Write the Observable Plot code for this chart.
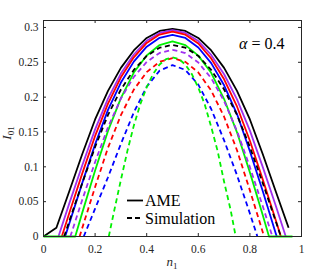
<!DOCTYPE html>
<html><head><meta charset="utf-8">
<script src="https://cdn.jsdelivr.net/npm/d3@7"></script>
<script src="https://cdn.jsdelivr.net/npm/@observablehq/plot@0.6"></script>
<style>
body{margin:0;background:#fff;}
#wrap{position:relative;width:332px;height:272px;}
#legend{position:absolute;left:0;top:0;width:332px;height:272px;pointer-events:none;}
</style></head><body><div id="wrap"></div>
<script>
// ---- data ----
const xTicks = [0, 0.2, 0.4, 0.6, 0.8, 1];
const xTickLabels = ["0", "0.2", "0.4", "0.6", "0.8", "1"];
const yTicks = [0, 0.05, 0.1, 0.15, 0.2, 0.25, 0.3];
const yTickLabels = ["0", "0.05", "0.1", "0.15", "0.2", "0.25", "0.3"];
const seriesNames = ["AME", "Simulation"];
const annotation = "α = 0.4";

// AME (solid)
const ameBlackN = [0,0.05,0.1,0.15,0.2,0.25,0.3,0.35,0.4,0.45,0.5,0.55,0.6,0.65,0.7,0.75,0.8,0.85,0.9,0.95];
const ameBlackI = [0,0.0125,0.065,0.118,0.168,0.209,0.242,0.267,0.285,0.295,0.298,0.295,0.285,0.267,0.242,0.209,0.168,0.118,0.065,0.0125];
const ameVioletN = [0.058,0.1,0.15,0.2,0.25,0.3,0.35,0.4,0.45,0.5,0.55,0.6,0.65,0.7,0.75,0.8,0.85,0.9,0.939];
const ameVioletI = [0,0.0475,0.102,0.1537,0.1978,0.2338,0.2612,0.2808,0.2922,0.296,0.2921,0.2805,0.2606,0.2329,0.1967,0.1519,0.0995,0.0444,0];
const ameRedN = [0.071,0.1,0.15,0.2,0.25,0.3,0.35,0.4,0.45,0.5,0.55,0.6,0.65,0.7,0.75,0.8,0.85,0.9,0.92];
const ameRedI = [0,0.0336,0.0902,0.1443,0.1908,0.2284,0.2572,0.2778,0.2899,0.294,0.2897,0.277,0.2556,0.2256,0.1866,0.1374,0.0816,0.0236,0];
const ameBlueN = [0.084,0.1,0.15,0.2,0.25,0.3,0.35,0.4,0.45,0.5,0.55,0.6,0.65,0.7,0.75,0.8,0.85,0.9,0.904];
const ameBlueI = [0,0.0188,0.0766,0.1322,0.1817,0.2209,0.251,0.2724,0.2852,0.2895,0.2849,0.2713,0.2488,0.217,0.1758,0.1224,0.0648,0.0048,0];
const ameGreenN = [0,0.123,0.15,0.2,0.25,0.3,0.35,0.4,0.45,0.5,0.55,0.6,0.65,0.7,0.75,0.8,0.85,0.874,0.965];
const ameGreenI = [0,0,0.0339,0.0948,0.1516,0.1987,0.2353,0.2598,0.2748,0.28,0.2747,0.2596,0.2349,0.1973,0.1495,0.092,0.0304,0,0];

// Simulation (dashed)
const simBlackN = [0.08,0.1,0.15,0.2,0.25,0.3,0.35,0.4,0.45,0.5,0.55,0.6,0.65,0.7,0.75,0.8,0.85,0.9,0.92];
const simBlackI = [0,0.0221,0.0764,0.1285,0.1745,0.211,0.2391,0.2591,0.271,0.275,0.271,0.2591,0.2391,0.211,0.1745,0.1285,0.0764,0.0221,0];
const simVioletN = [0.104,0.15,0.2,0.25,0.3,0.35,0.4,0.45,0.5,0.55,0.6,0.65,0.7,0.75,0.8,0.85,0.887];
const simVioletI = [0,0.0524,0.1069,0.1569,0.1981,0.2289,0.2505,0.2635,0.268,0.2633,0.2497,0.2272,0.1944,0.1514,0.0995,0.0433,0];
const simRedN = [0.14,0.15,0.2,0.25,0.3,0.35,0.4,0.45,0.5,0.55,0.6,0.65,0.7,0.75,0.8,0.85,0.855];
const simRedI = [0,0.012,0.0711,0.1274,0.1742,0.2108,0.2359,0.2508,0.256,0.2507,0.2354,0.2094,0.1719,0.1238,0.0662,0.0061,0];
const simBlueN = [0.156,0.2,0.25,0.3,0.35,0.4,0.45,0.5,0.55,0.6,0.65,0.7,0.75,0.8,0.829];
const simBlueI = [0,0.04,0.085,0.133,0.178,0.215,0.238,0.246,0.239,0.218,0.183,0.138,0.088,0.033,0];
const simGreenN = [0.253,0.275,0.3,0.325,0.35,0.375,0.4,0.425,0.45,0.475,0.5,0.525,0.55,0.575,0.6,0.625,0.65,0.675,0.7,0.725,0.745];
const simGreenI = [0,0.0387,0.0813,0.1225,0.1591,0.1896,0.2144,0.2332,0.2469,0.2546,0.257,0.2546,0.2467,0.2332,0.2136,0.1896,0.1573,0.1225,0.0785,0.0387,0];

// ---- styling ----
const C = {black:"#000000", violet:"#a030f0", red:"#ff0000", blue:"#0000ff", green:"#00f000"};
const curves = [
  [ameBlackN, ameBlackI, C.black, null],
  [ameVioletN, ameVioletI, C.violet, null],
  [ameRedN, ameRedI, C.red, null],
  [ameBlueN, ameBlueI, C.blue, null],
  [ameGreenN, ameGreenI, C.green, null],
  [simBlackN, simBlackI, C.black, "5,3.5"],
  [simVioletN, simVioletI, C.violet, "5,3.5"],
  [simRedN, simRedI, C.red, "5,3.5"],
  [simBlueN, simBlueI, C.blue, "5,3.5"],
  [simGreenN, simGreenI, C.green, "5,3.5"]
];
const W = 332, H = 272, mL = 43, mR = 31, mT = 20, mB = 36;
const yMax = 0.31;
const tickLen = 3;
const yPerPx = yMax / (H - mT - mB);
const xPerPx = 1 / (W - mL - mR);
const axisColor = "#262626";
const font = "Liberation Serif";

const lineMarks = curves.map(([ns, is, color, dash]) =>
  Plot.line(ns.map((n, i) => ({n, I: is[i]})), {
    x: "n", y: "I", stroke: color, strokeWidth: 1.8,
    strokeDasharray: dash, strokeLinejoin: "round", strokeLinecap: "butt"
  }));

const plot = Plot.plot({
  width: W, height: H,
  marginLeft: mL, marginRight: mR, marginTop: mT, marginBottom: mB,
  style: {fontFamily: font, fontSize: "11.5px", background: "#fff"},
  x: {domain: [0, 1]},
  y: {domain: [0, yMax]},
  marks: [
    ...lineMarks,
    Plot.ruleX(xTicks, {y1: 0, y2: tickLen * yPerPx, stroke: axisColor}),
    Plot.ruleX(xTicks, {y1: yMax - tickLen * yPerPx, y2: yMax, stroke: axisColor}),
    Plot.ruleY(yTicks, {x1: 0, x2: tickLen * xPerPx, stroke: axisColor}),
    Plot.ruleY(yTicks, {x1: 1 - tickLen * xPerPx, x2: 1, stroke: axisColor}),
    Plot.frame({stroke: axisColor, strokeWidth: 1}),
    Plot.axisX(xTicks, {tickSize: 0, tickPadding: 8, tickFormat: (d, i) => xTickLabels[i], fontFamily: font, fontSize: 11.5, color: axisColor, label: null}),
    Plot.axisY(yTicks, {tickSize: 0, tickPadding: 5, tickFormat: (d, i) => yTickLabels[i], fontFamily: font, fontSize: 11.5, color: axisColor, label: null}),
    Plot.text([annotation], {frameAnchor: "top-right", dx: -17, dy: 17, fontFamily: font, fontSize: 16, fill: "#000", text: d => d})
  ]
});
document.getElementById("wrap").appendChild(plot);

const svg = d3.select(plot);
// italicize alpha in annotation
svg.selectAll("text").each(function () {
  const t = d3.select(this);
  if (t.text() === annotation) {
    t.text(null);
    t.append("tspan").attr("font-style", "italic").text("α");
    t.append("tspan").text(" = 0.4");
  }
});
// axis labels
const xl = svg.append("text").attr("x", mL + (W - mL - mR) / 2).attr("y", H - 6)
  .attr("text-anchor", "middle").attr("font-size", 13).attr("fill", axisColor);
xl.append("tspan").attr("font-style", "italic").text("n");
xl.append("tspan").attr("font-size", 9).attr("dy", 3).text("1");
const yl = svg.append("text").attr("transform", `translate(11,${mT + (H - mT - mB) / 2 + 5}) rotate(-90)`)
  .attr("text-anchor", "middle").attr("font-size", 13).attr("fill", axisColor);
yl.append("tspan").attr("font-style", "italic").text("I");
yl.append("tspan").attr("font-size", 9).attr("dy", 3).text("01");
svg.selectAll("text").attr("font-family", font).style("font-family", "'Liberation Serif'");

// legend overlay
const lg = d3.select("#wrap").append("svg").attr("id", "legend").attr("width", W).attr("height", H);
const legendRows = [{label: seriesNames[0], dash: null, y: 200.5}, {label: seriesNames[1], dash: "5,3", y: 218}];
legendRows.forEach(r => {
  lg.append("line").attr("x1", 127).attr("x2", 143).attr("y1", r.y).attr("y2", r.y)
    .attr("stroke", "#000").attr("stroke-width", 1.8).attr("stroke-dasharray", r.dash);
  lg.append("text").attr("x", 145).attr("y", r.y).attr("dy", "0.35em")
    .attr("font-family", font).style("font-family", "'Liberation Serif'")
    .attr("font-size", 16).attr("fill", "#000").text(r.label);
});
</script></body></html>
